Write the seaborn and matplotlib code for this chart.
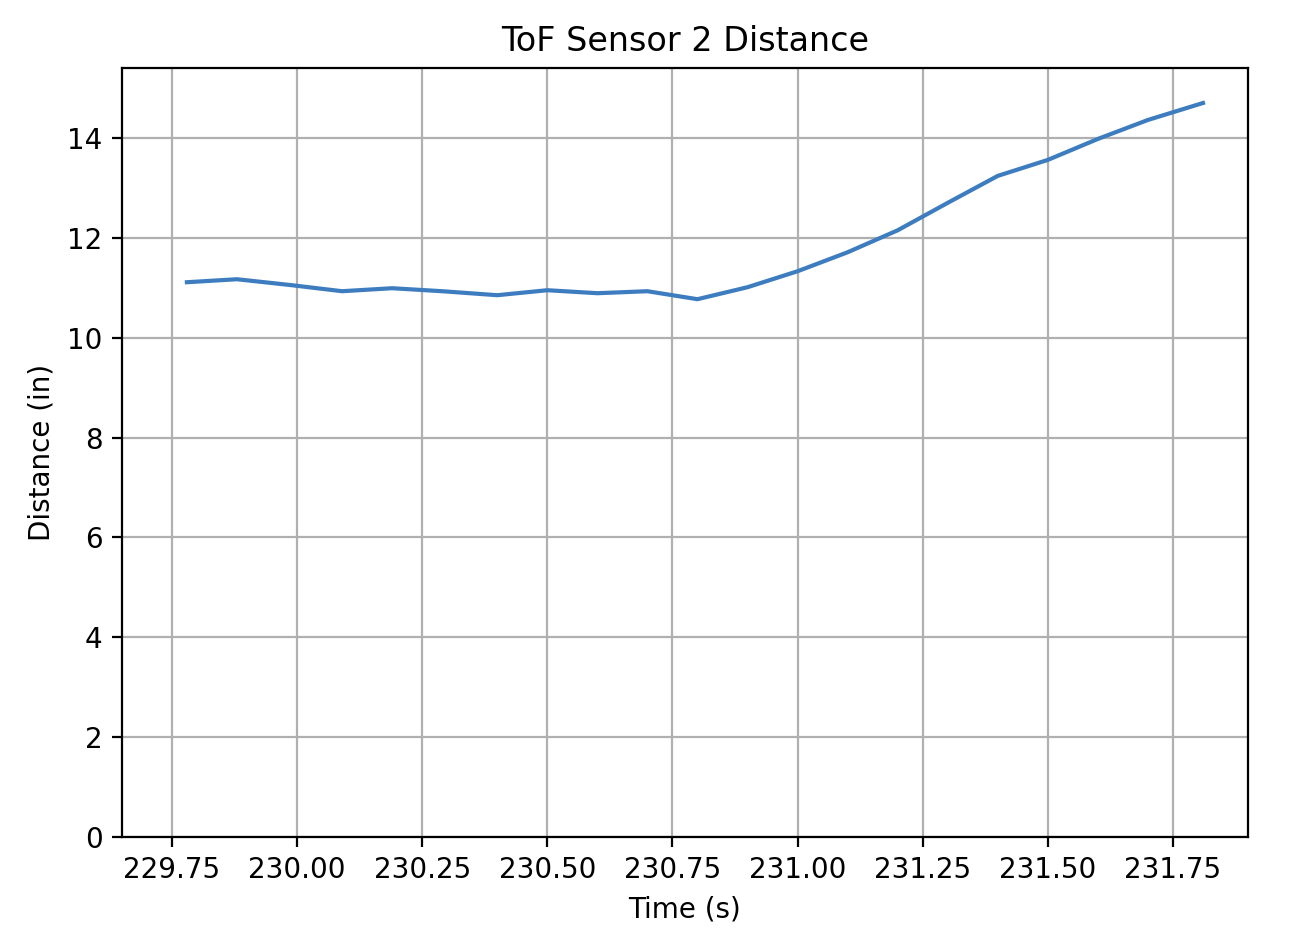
import matplotlib
matplotlib.use("Agg")
import matplotlib.pyplot as plt
import seaborn as sns

time_s = [229.78, 229.88, 229.99, 230.09, 230.19, 230.29, 230.40, 230.50, 230.60, 230.70,
          230.80, 230.90, 231.00, 231.10, 231.20, 231.30, 231.40, 231.50, 231.60, 231.70, 231.81]
distance_in = [11.11, 11.17, 11.05, 10.93, 10.99, 10.93, 10.85, 10.95, 10.89, 10.93,
               10.77, 11.01, 11.33, 11.71, 12.15, 12.70, 13.24, 13.56, 13.98, 14.36, 14.70]

fig, ax = plt.subplots(figsize=(6.48, 4.66), dpi=200)
sns.lineplot(x=time_s, y=distance_in, ax=ax, color="#3d7dbf", linewidth=1.5)
ax.set_ylim(0, 15.4)
ax.set_xlim(229.65, 231.9)
ax.set_xticks([229.75, 230.0, 230.25, 230.5, 230.75, 231.0, 231.25, 231.5, 231.75])
ax.set_xticklabels(["229.75", "230.00", "230.25", "230.50", "230.75", "231.00", "231.25", "231.50", "231.75"])
ax.grid(True, color="#b0b0b0", linewidth=0.8)
ax.set_title("ToF Sensor 2 Distance")
ax.set_xlabel("Time (s)")
ax.set_ylabel("Distance (in)")
fig.subplots_adjust(left=0.094, right=0.963, top=0.927, bottom=0.102)
fig.savefig("out.png")
